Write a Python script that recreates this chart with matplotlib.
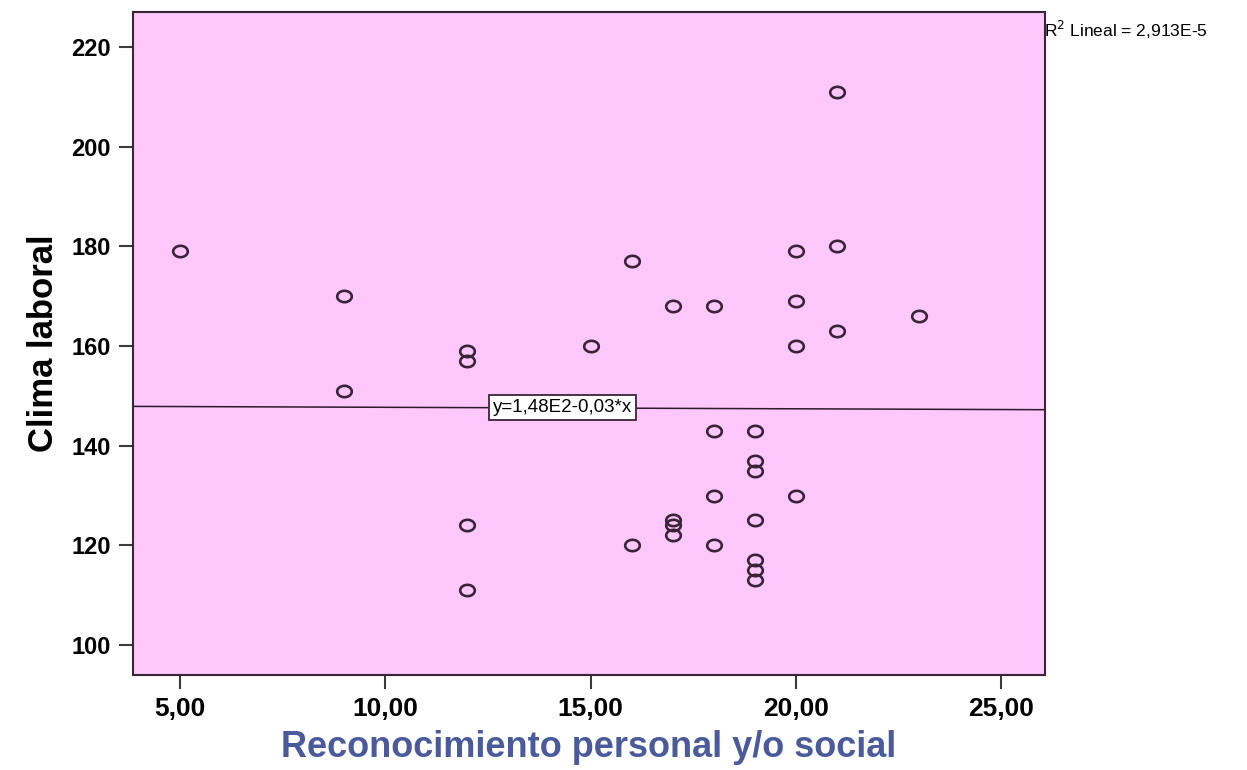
import numpy as np
import matplotlib.pyplot as plt
from matplotlib.path import Path

# Data
reconocimiento = [5, 9, 9, 12, 12, 12, 12, 15, 16, 16,
                  17, 17, 17, 17, 18, 18, 18, 18,
                  19, 19, 19, 19, 19, 19, 19,
                  20, 20, 20, 20, 21, 21, 21, 23]
clima = [179, 170, 151, 159, 157, 124, 111, 160, 177, 120,
         168, 125, 124, 122, 168, 143, 130, 120,
         143, 137, 135, 125, 117, 115, 113,
         179, 169, 160, 130, 211, 180, 163, 166]

intercept = 148.0
slope = -0.03
x_ticks = [5, 10, 15, 20, 25]
y_ticks = [100, 120, 140, 160, 180, 200, 220]

edge = "#3a2438"
sans = ["Liberation Sans", "DejaVu Sans"]

fig = plt.figure(figsize=(12.47, 7.70), dpi=100)
ax = fig.add_axes([0.1067, 0.1234, 0.7314, 0.861])
ax.set_facecolor("#ffc8fc")

# slightly flattened open circle, like the SPSS marker
t = np.linspace(0, 2 * np.pi, 40)
ellipse = Path(np.column_stack([np.cos(t), 0.78 * np.sin(t)]), closed=True)

ax.plot(reconocimiento, clima, linestyle="none", marker=ellipse,
        markersize=10.5, markerfacecolor="none", markeredgecolor=edge,
        markeredgewidth=1.9)

ax.set_xlim(3.86, 26.07)
ax.set_ylim(94.0, 227.0)

# fit line across the whole x range
xs = np.array(ax.get_xlim())
ax.plot(xs, intercept + slope * xs, color="#2a1a2a", linewidth=1.1)

ax.text(12.62, intercept + slope * 12.62, "y=1,48E2-0,03*x", fontsize=13.5,
        va="center", ha="left", family=sans,
        bbox=dict(boxstyle="square,pad=0.22", facecolor="white",
                  edgecolor=edge, linewidth=1.3))

fig.text(0.8375, 0.961, "R$^2$ Lineal = 2,913E-5", fontsize=12.5,
         ha="left", va="center", family=sans)

for side in ["left", "bottom", "right", "top"]:
    ax.spines[side].set_color(edge)
    ax.spines[side].set_linewidth(1.5)

ax.set_xticks(x_ticks)
ax.set_xticklabels([f"{v:.2f}".replace(".", ",") for v in x_ticks])
ax.set_yticks(y_ticks)
ax.set_yticklabels([str(v) for v in y_ticks])
ax.tick_params(axis="both", direction="out", length=10, width=1.5,
               color="#3a3a3a", pad=6)
for lbl in ax.get_xticklabels():
    lbl.set_fontsize(19)
    lbl.set_fontweight("bold")
    lbl.set_family(sans)
for lbl in ax.get_yticklabels():
    lbl.set_fontsize(17)
    lbl.set_fontweight("bold")
    lbl.set_family(sans)

ax.set_xlabel("Reconocimiento personal y/o social", fontsize=26,
              fontweight="bold", color="#4a5a9a", family=sans, labelpad=6)
ax.set_ylabel("Clima laboral", fontsize=25, fontweight="bold",
              color="black", family=sans, labelpad=8)

fig.savefig("out.png", dpi=100, facecolor="white")
